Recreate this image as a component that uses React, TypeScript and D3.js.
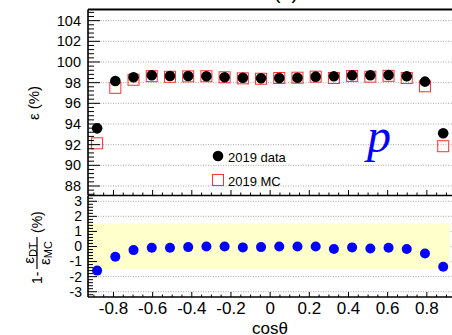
import React from "react";
import * as d3 from "d3";

// cosθ bin centres (20 bins over [-0.93, 0.93])
const cosBins = [
  -0.8835, -0.7905, -0.6975, -0.6045, -0.5115, -0.4185, -0.3255, -0.2325, -0.1395, -0.0465,
  0.0465, 0.1395, 0.2325, 0.3255, 0.4185, 0.5115, 0.6045, 0.6975, 0.7905, 0.8835,
];

// tracking efficiency (%), 2019 data
const effData = [
  93.58, 98.16, 98.52, 98.71, 98.65, 98.65, 98.62, 98.52, 98.48, 98.42,
  98.45, 98.48, 98.58, 98.62, 98.71, 98.71, 98.74, 98.62, 98.1, 93.1,
];

// tracking efficiency (%), 2019 MC
const effMC = [
  92.13, 97.5, 98.28, 98.63, 98.57, 98.61, 98.62, 98.52, 98.42, 98.38,
  98.45, 98.48, 98.58, 98.45, 98.65, 98.58, 98.66, 98.45, 97.65, 91.85,
];

// 1 - eff(data)/eff(MC) in %
const relDiff = [
  -1.6, -0.68, -0.24, -0.08, -0.08, -0.04, 0.0, 0.0, -0.06, -0.04,
  0.0, 0.0, 0.0, -0.17, -0.06, -0.13, -0.08, -0.17, -0.46, -1.34,
];

const xTickLabels = ["-0.8", "-0.6", "-0.4", "-0.2", "0", "0.2", "0.4", "0.6", "0.8"];
const topYTicks = [88, 90, 92, 94, 96, 98, 100, 102, 104];
const botYTicks = [-3, -2, -1, 0, 1, 2, 3];
const systBand = [-1.5, 1.5];
const legendItems = ["2019 data", "2019 MC"];

const W = 452;
const H = 335;
const FONT = "'Liberation Sans', Arial, Helvetica, sans-serif";

export default function App() {
  const x = d3.scaleLinear().domain([-0.93, 0.93]).range([88, 452.3]);
  const yTop = d3.scaleLinear().domain([87.08, 105.08]).range([195.5, 9.5]);
  const yBot = d3.scaleLinear().domain([-3.35, 3.35]).range([297, 196]);

  const [x0, x1] = x.range();
  const grid = "#a8a8a8";

  // minor tick positions
  const topYMinor = d3.range(87.2, 105.1, 0.4).filter((v) => Math.abs(v / 2 - Math.round(v / 2)) > 1e-6);
  const botYMinor = d3.range(-3.2, 3.3, 0.2).filter((v) => Math.abs(v - Math.round(v)) > 1e-6);
  const xMajor = xTickLabels.map(Number);
  const xMinor = d3.range(-0.9, 0.91, 0.05).filter((v) => Math.abs(v / 0.2 - Math.round(v / 0.2)) > 1e-6);

  return (
    <svg
      width={W}
      height={H}
      style={{ position: "absolute", left: 0, top: 0, background: "#fff" }}
      fontFamily={FONT}
    >
      <rect x={0} y={0} width={W} height={H} fill="#fff" />

      {/* panel title, mostly above the visible area */}
      <text x={286} y={-1} fontSize={20} textAnchor="middle" fill="#000">(a)</text>

      {/* ===== upper panel: efficiency ===== */}
      {topYTicks.map((v) => (
        <line key={"tg" + v} x1={x0} x2={x1} y1={yTop(v)} y2={yTop(v)} stroke={grid} strokeWidth={1} strokeDasharray="1,1.5" />
      ))}

      {/* MC open squares */}
      {cosBins.map((c, i) => (
        <rect
          key={"mc" + i}
          x={x(c) - 5.5}
          y={yTop(effMC[i]) - 5.5}
          width={11}
          height={11}
          fill="none"
          stroke="#ff3030"
          strokeWidth={1}
        />
      ))}
      {/* data filled circles */}
      {cosBins.map((c, i) => (
        <circle key={"dt" + i} cx={x(c)} cy={yTop(effData[i])} r={5.3} fill="#000" />
      ))}

      {/* legend */}
      <circle cx={218} cy={156} r={5.3} fill="#000" />
      <text x={228} y={157} dy="0.35em" fontSize={13} fill="#000">{legendItems[0]}</text>
      <rect x={212.5} y={174.5} width={11} height={11} fill="none" stroke="#ff3030" strokeWidth={1} />
      <text x={228} y={181} dy="0.35em" fontSize={13} fill="#000">{legendItems[1]}</text>

      {/* particle label */}
      <text x={367} y={152} fontSize={48} fontStyle="italic" fontFamily="'Liberation Serif', 'Times New Roman', serif" fill="#0000ff">p</text>

      {/* upper frame + axes */}
      {topYTicks.map((v) => (
        <line key={"tyt" + v} x1={x0} x2={x0 + 12} y1={yTop(v)} y2={yTop(v)} stroke="#000" strokeWidth={1} />
      ))}
      {topYMinor.map((v, i) => (
        <line key={"tym" + i} x1={x0} x2={x0 + 6} y1={yTop(v)} y2={yTop(v)} stroke="#000" strokeWidth={1} />
      ))}
      {xMajor.map((v) => (
        <line key={"txt" + v} x1={x(v)} x2={x(v)} y1={195.5} y2={190} stroke="#000" strokeWidth={1} />
      ))}
      {xMinor.map((v, i) => (
        <line key={"txm" + i} x1={x(v)} x2={x(v)} y1={195.5} y2={192.5} stroke="#000" strokeWidth={1} />
      ))}
      {topYTicks.map((v) => (
        <text key={"tyl" + v} x={81} y={yTop(v)} dy="0.35em" fontSize={14.5} textAnchor="end" fill="#000">{v}</text>
      ))}
      <line x1={x0} x2={W + 2} y1={9.5} y2={9.5} stroke="#000" strokeWidth={2} />
      <line x1={x0} x2={x0} y1={9.5} y2={195.5} stroke="#000" strokeWidth={1.6} />
      <line x1={x0} x2={W + 2} y1={195.5} y2={195.5} stroke="#000" strokeWidth={1.6} />
      <text transform="translate(38.5,103) rotate(-90)" fontSize={15} textAnchor="middle" fill="#000">ε (%)</text>

      {/* ===== lower panel: relative difference ===== */}
      {botYTicks.map((v) => (
        <line key={"bg" + v} x1={x0} x2={x1} y1={yBot(v)} y2={yBot(v)} stroke={grid} strokeWidth={1} strokeDasharray="1,1.5" />
      ))}
      <rect
        x={x(-0.93)}
        y={yBot(systBand[1])}
        width={x(0.915) - x(-0.93)}
        height={yBot(systBand[0]) - yBot(systBand[1])}
        fill="#ffffcc"
      />
      {cosBins.map((c, i) => (
        <circle key={"rd" + i} cx={x(c)} cy={yBot(relDiff[i])} r={5} fill="#0000ff" />
      ))}

      {botYTicks.map((v) => (
        <line key={"byt" + v} x1={x0} x2={x0 + 9} y1={yBot(v)} y2={yBot(v)} stroke="#000" strokeWidth={1} />
      ))}
      {botYMinor.map((v, i) => (
        <line key={"bym" + i} x1={x0} x2={x0 + 5} y1={yBot(v)} y2={yBot(v)} stroke="#000" strokeWidth={1} />
      ))}
      {xMajor.map((v) => (
        <line key={"bxt" + v} x1={x(v)} x2={x(v)} y1={297} y2={292} stroke="#000" strokeWidth={1} />
      ))}
      {xMinor.map((v, i) => (
        <line key={"bxm" + i} x1={x(v)} x2={x(v)} y1={297} y2={294.5} stroke="#000" strokeWidth={1} />
      ))}
      {botYTicks.map((v) => (
        <text key={"byl" + v} x={82} y={yBot(v)} dy="0.35em" fontSize={14} textAnchor="end" fill="#000">{v}</text>
      ))}
      {xTickLabels.map((t) => (
        <text key={"bxl" + t} x={x(Number(t))} y={314} fontSize={17} textAnchor="middle" fill="#000">{t}</text>
      ))}
      <line x1={x0} x2={x0} y1={196} y2={297} stroke="#000" strokeWidth={1.6} />
      <line x1={x0} x2={W + 2} y1={297} y2={297} stroke="#000" strokeWidth={1.6} />

      <text x={270} y={334} fontSize={17} textAnchor="middle" fill="#000">cosθ</text>

      {/* lower y title: 1 - ε_DT / ε_MC (%) */}
      <g transform="translate(40,247) rotate(-90)" fill="#000">
        <text x={-37} y={2} fontSize={14}>1-</text>
        <line x1={-22} x2={10} y1={-3} y2={-3} stroke="#000" strokeWidth={1.2} />
        <text x={-6} y={-6} textAnchor="middle">
          <tspan fontSize={15}>ε</tspan>
          <tspan fontSize={11} dy={2.5}>DT</tspan>
        </text>
        <text x={-6} y={9.5} textAnchor="middle">
          <tspan fontSize={15}>ε</tspan>
          <tspan fontSize={11} dy={2.5}>MC</tspan>
        </text>
        <text x={14} y={2} fontSize={14}>(%)</text>
      </g>
    </svg>
  );
}
